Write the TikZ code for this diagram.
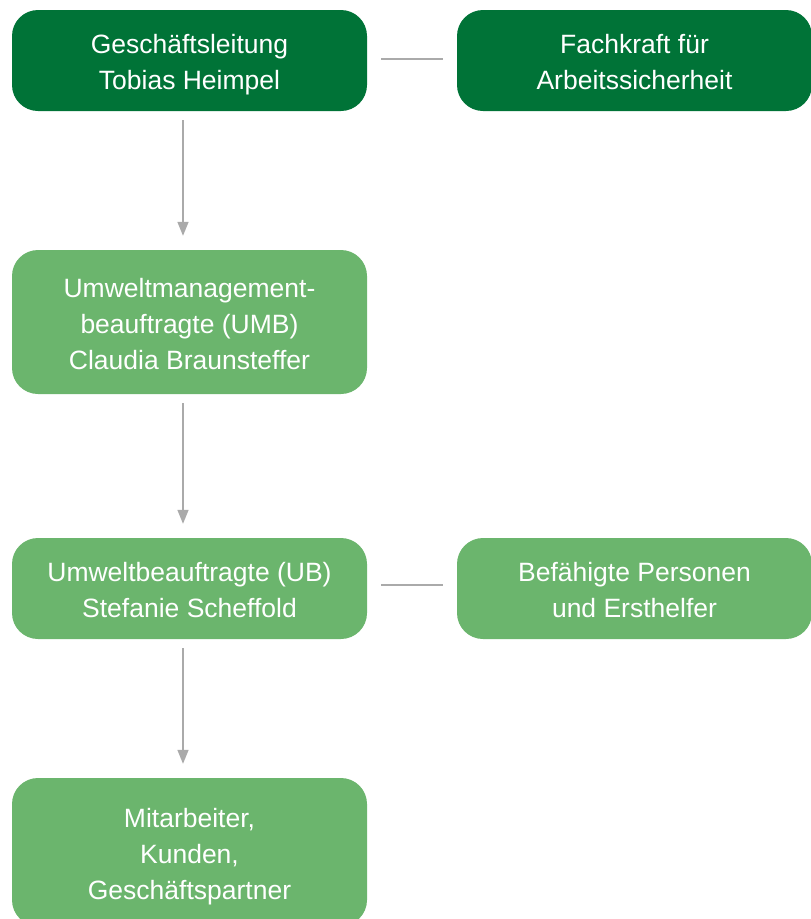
\documentclass[tikz,border=0pt]{standalone}
\usepackage{fontspec}
\setmainfont{Liberation Sans}
\usetikzlibrary{arrows.meta}
\definecolor{darkgreen}{RGB}{0,115,55}
\definecolor{lightgreen}{RGB}{107,181,109}
\definecolor{linegray}{RGB}{170,170,170}
\newcommand{\toppad}{\rule{0pt}{30.4pt}}
\newcommand{\botpad}{\rule[-8pt]{0pt}{8pt}}
\begin{document}
\begin{tikzpicture}[x=1pt,y=-1pt,
  box/.style={rectangle, rounded corners=26pt, minimum width=355pt, inner sep=0pt,
    text=white, align=center, font=\fontsize{26.5}{36}\selectfont},
  dark/.style={box, fill=darkgreen, minimum height=101pt},
  light/.style={box, fill=lightgreen},
  conn/.style={draw=linegray, line width=1.5pt, shorten <=14pt, shorten >=14pt},
  arr/.style={draw=linegray, line width=1.6pt, shorten <=9pt, shorten >=14pt,
    -{Triangle[width=11pt,length=14pt]}}]
\useasboundingbox (0,0) rectangle (811,919);
\clip (0,0) rectangle (811,919);
\node[dark] (gl) at (189.5,60.5) {\toppad Geschäftsleitung\\Tobias Heimpel\botpad};
\node[dark] (fa) at (634.5,60.5) {\toppad Fachkraft für\\Arbeitssicherheit\botpad};
\node[light, minimum height=144pt] (umb) at (189.5,322) {\toppad Umweltmanagement-\\beauftragte (UMB)\\Claudia Braunsteffer\botpad};
\node[light, minimum height=101pt] (ub) at (189.5,588.5) {\toppad Umweltbeauftragte (UB)\\Stefanie Scheffold\botpad};
\node[light, minimum height=101pt] (bp) at (634.5,588.5) {\toppad Befähigte Personen\\und Ersthelfer\botpad};
\node[light, minimum height=148pt] (ma) at (189.5,852) {\toppad Mitarbeiter,\\Kunden,\\Geschäftspartner\botpad};
\draw[conn] ([yshift=1.5pt]gl.east) -- ([yshift=1.5pt]fa.west);
\draw[conn] ([yshift=3.5pt]ub.east) -- ([yshift=3.5pt]bp.west);
\draw[arr] ([xshift=-6.5pt]gl.south) -- ([xshift=-6.5pt]umb.north);
\draw[arr] ([xshift=-6.5pt]umb.south) -- ([xshift=-6.5pt]ub.north);
\draw[arr] ([xshift=-6.5pt]ub.south) -- ([xshift=-6.5pt]ma.north);
\end{tikzpicture}
\end{document}
